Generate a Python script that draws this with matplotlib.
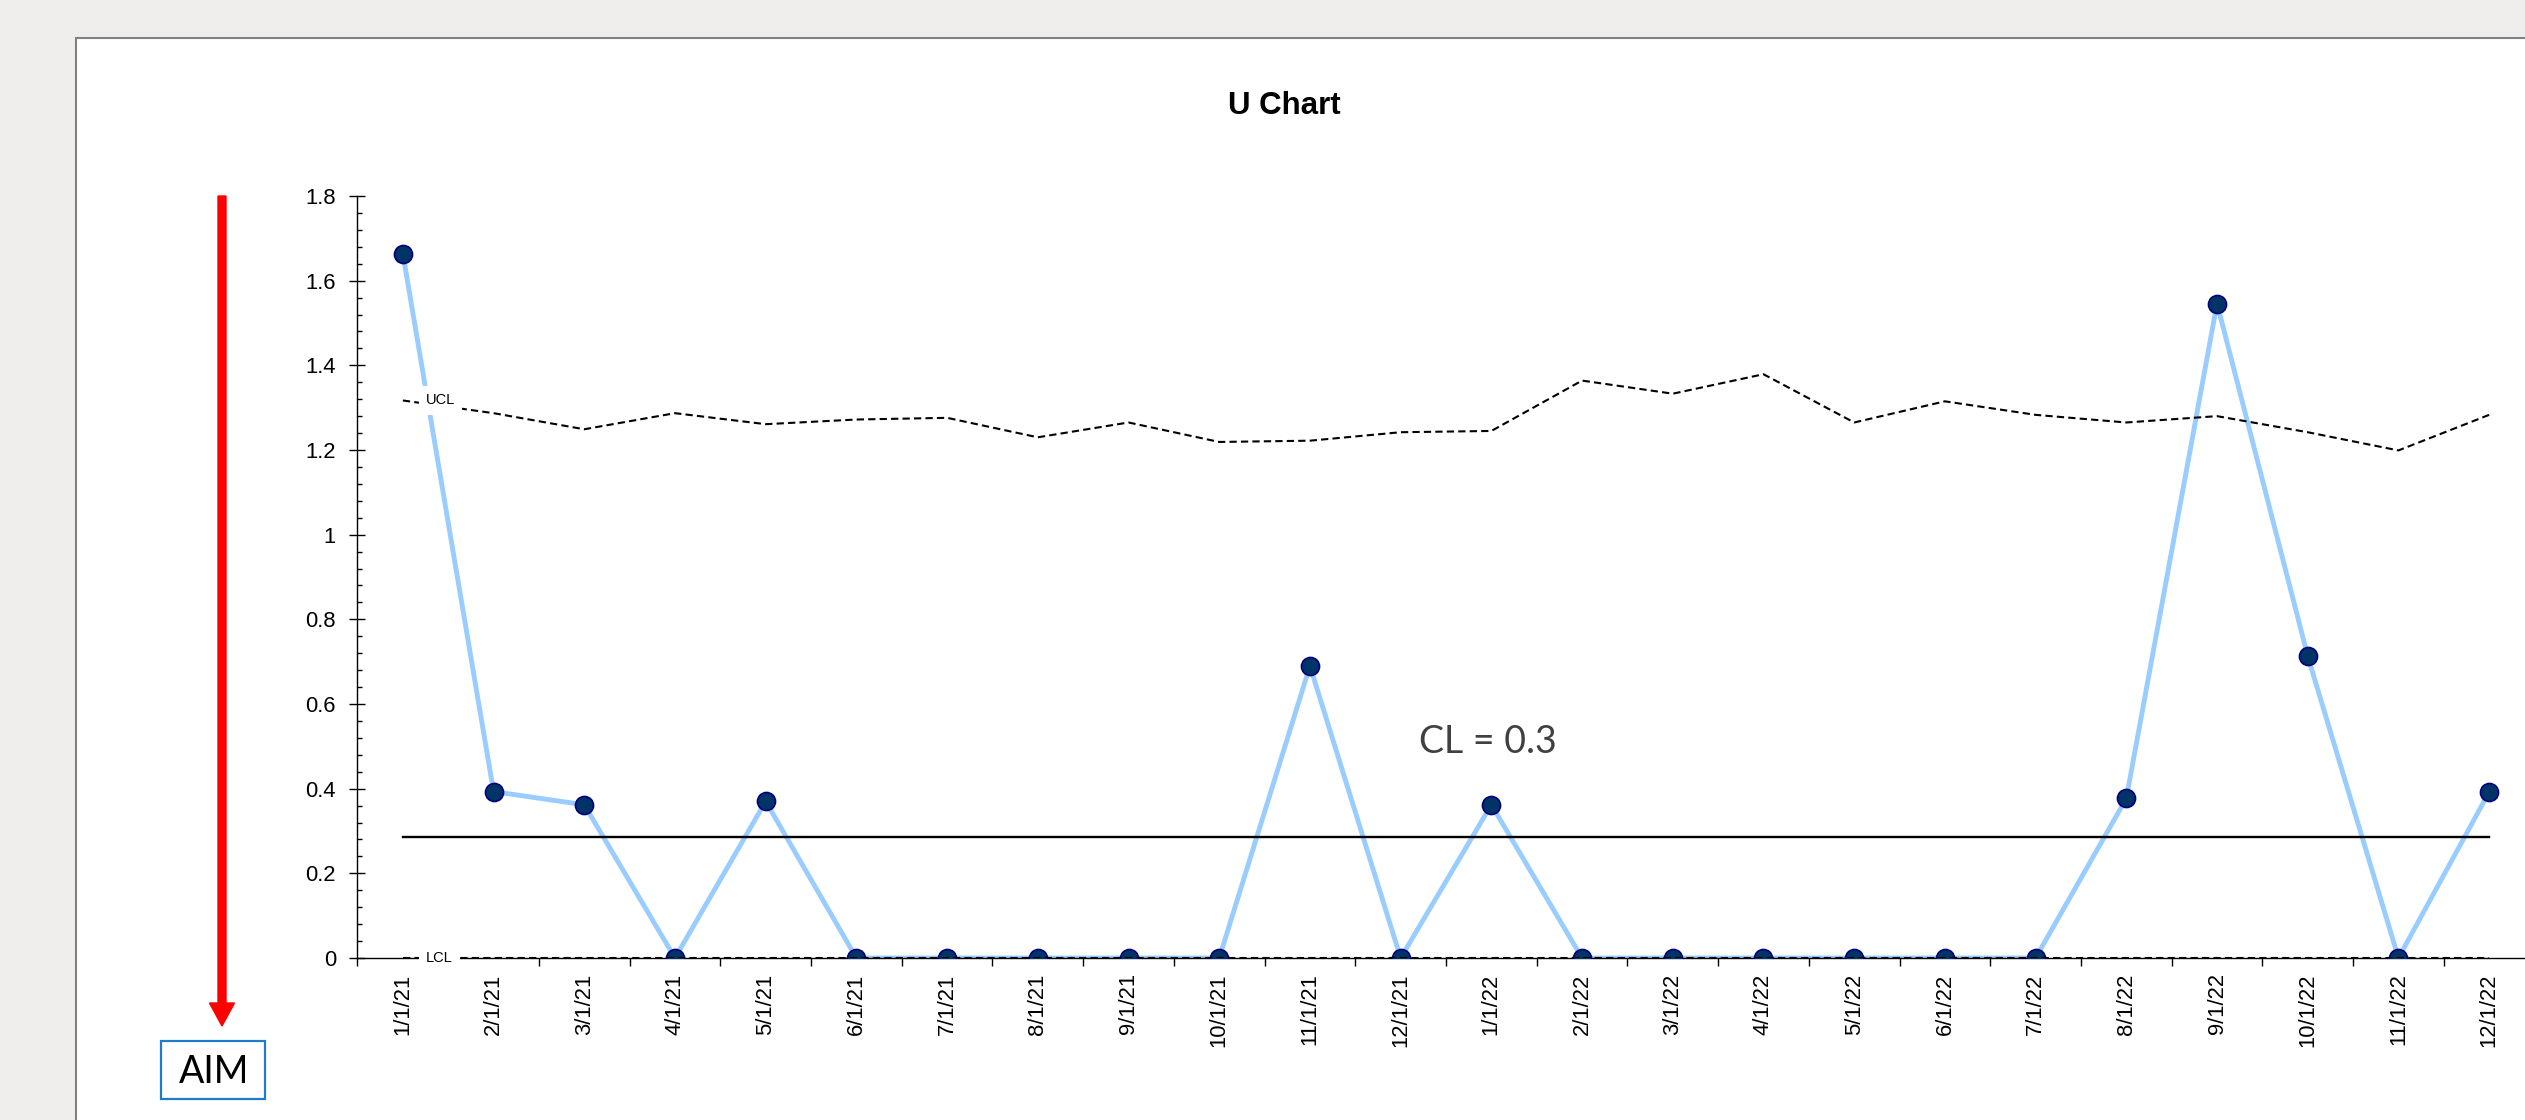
import numpy as np
import matplotlib
matplotlib.use("Agg")
import matplotlib.pyplot as plt
from matplotlib.patches import Rectangle, FancyArrow

plt.rcParams['font.family'] = ['Liberation Sans', 'DejaVu Sans']

# monthly periods
months = ['1/1/21', '2/1/21', '3/1/21', '4/1/21', '5/1/21', '6/1/21',
          '7/1/21', '8/1/21', '9/1/21', '10/1/21', '11/1/21', '12/1/21',
          '1/1/22', '2/1/22', '3/1/22', '4/1/22', '5/1/22', '6/1/22',
          '7/1/22', '8/1/22', '9/1/22', '10/1/22', '11/1/22', '12/1/22']

# defects per unit
u = [1.664, 0.393, 0.362, 0.0, 0.370, 0.0,
     0.0, 0.0, 0.0, 0.0, 0.690, 0.0,
     0.362, 0.0, 0.0, 0.0, 0.0, 0.0,
     0.0, 0.377, 1.546, 0.713, 0.0, 0.392]

# control limits
ucl = [1.317, 1.287, 1.249, 1.287, 1.261, 1.272,
       1.276, 1.230, 1.265, 1.219, 1.222, 1.242,
       1.245, 1.364, 1.333, 1.379, 1.265, 1.315,
       1.283, 1.265, 1.280, 1.242, 1.199, 1.283]
lcl = [0.0] * len(months)
cl = 0.286

W, H = 2525, 1120
fig = plt.figure(figsize=(W / 100, H / 100), dpi=100, facecolor='#EFEEEC')

# white chart panel behind everything
panel = Rectangle((76 / W, -0.1), 1.2, 1 - 38 / H + 0.1, transform=fig.transFigure,
                  facecolor='white', edgecolor='#808080', linewidth=1.5, zorder=-10)
fig.patches.append(panel)

ax = fig.add_axes([357.5 / W, 162 / H, 2177 / W, 762 / H])
ax.set_facecolor('none')
ax.set_zorder(1)

x = np.arange(len(months))

ax.plot(x, u, color='#99CCFF', lw=3.5, zorder=2)
ax.plot(x, u, linestyle='none', marker='o', markersize=13,
        markerfacecolor='#003366', markeredgecolor='#000080',
        markeredgewidth=1.2, zorder=3)
ax.plot([x[0], x[-1]], [cl, cl], color='black', lw=1.7, zorder=4)
ax.plot(x, ucl, color='black', lw=1.5, dashes=(3.5, 2), zorder=5)
ax.plot(x, lcl, color='black', lw=1.5, dashes=(3.5, 2), zorder=5)

for name, vals in (('UCL', ucl), ('LCL', lcl)):
    ax.annotate(name, (x[0], vals[0]), xytext=(23, 0), textcoords='offset pixels',
                ha='left', va='center', fontsize=10.5, zorder=6,
                bbox=dict(boxstyle='square,pad=0.5', facecolor='white',
                          edgecolor='none'))

ax.text(11.2, 0.51, f'CL = {cl:.1f}', fontsize=27, color='#404040',
        family=['Lato', 'DejaVu Sans'], ha='left', va='center')

ax.set_xlim(-0.5, len(months) - 0.5)
ax.set_ylim(0, 1.8)

ax.set_yticks(np.arange(0, 1.81, 0.2))
ax.set_yticklabels(['0', '0.2', '0.4', '0.6', '0.8', '1', '1.2', '1.4', '1.6', '1.8'])
ax.set_yticks(np.arange(0, 1.81, 0.04), minor=True)
ax.tick_params(axis='y', which='major', direction='inout', length=11, width=1,
               labelsize=15.8, pad=10)
ax.tick_params(axis='y', which='minor', direction='in', length=3.6, width=1)

ax.set_xticks(x)
ax.set_xticklabels(months, rotation=90)
ax.set_xticks(np.arange(-0.5, len(months)), minor=True)
ax.tick_params(axis='x', which='major', length=0, labelsize=15.8, pad=11)
ax.tick_params(axis='x', which='minor', direction='out', length=5.8, width=1)

for side in ('top', 'right'):
    ax.spines[side].set_visible(False)
for side in ('left', 'bottom'):
    ax.spines[side].set_linewidth(1)

fig.text(1284 / W, 1 - 106 / H, 'U Chart', fontsize=22.5, fontweight='bold',
         ha='center', va='center')

# direction arrow and aim box
arrow = FancyArrow(222 / 100, (H - 196) / 100, 0, -(1026 - 196) / 100,
                   width=0.08, head_width=0.25, head_length=0.23,
                   length_includes_head=True, color='red',
                   transform=fig.dpi_scale_trans)
fig.patches.append(arrow)

aim = Rectangle((161 / 100, (H - 1099) / 100), 104 / 100, 58 / 100,
                transform=fig.dpi_scale_trans, facecolor='white',
                edgecolor='#1F7BCB', linewidth=1.6)
fig.patches.append(aim)
fig.text(214 / W, 1 - 1072 / H, 'AIM', fontsize=27, family=['Lato', 'DejaVu Sans'],
         ha='center', va='center')

fig.savefig('out.png', dpi=100, facecolor=fig.get_facecolor())
